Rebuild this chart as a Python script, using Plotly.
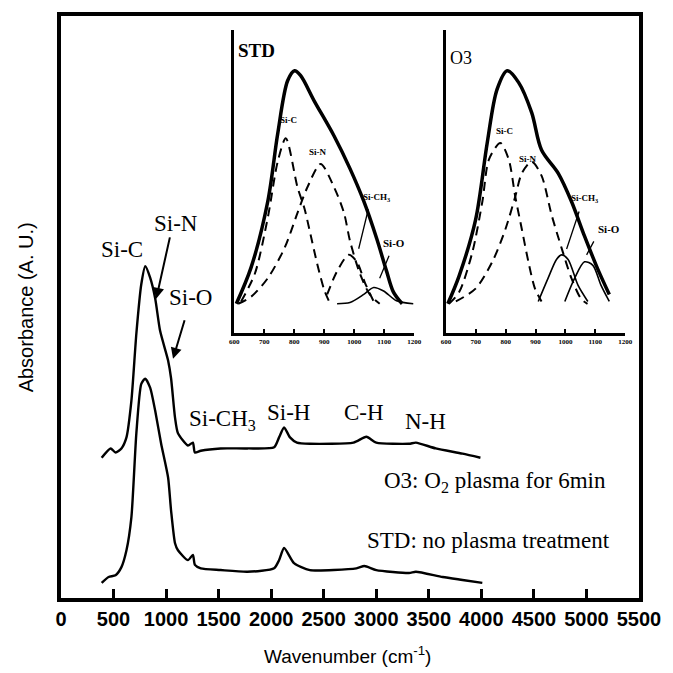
import plotly.graph_objects as go

# ---------------- main spectra ----------------
o3_wn = [387, 472, 519, 575, 623, 670, 717, 764, 802, 849, 896, 943, 1019, 1047, 1085, 1113, 1208, 1255, 1274,
         1330, 1519, 1774, 2028, 2075, 2123, 2179, 2245, 2368, 2783, 2906, 3000, 3311, 3377, 3566, 3821, 3991]
o3_abs = [0.241, 0.257, 0.250, 0.257, 0.276, 0.339, 0.454, 0.539, 0.570, 0.550, 0.515, 0.459, 0.408, 0.378, 0.310,
          0.283, 0.262, 0.267, 0.250, 0.253, 0.257, 0.257, 0.259, 0.276, 0.293, 0.276, 0.267, 0.265, 0.267, 0.277,
          0.267, 0.265, 0.267, 0.257, 0.248, 0.241]

std_wn = [387, 453, 519, 575, 623, 670, 717, 764, 802, 849, 896, 953, 1019, 1047, 1085, 1113, 1208, 1255, 1274,
          1330, 1519, 1774, 2028, 2075, 2123, 2217, 2368, 2811, 2887, 3000, 3311, 3377, 3632, 3821, 4009]
std_abs = [0.026, 0.036, 0.039, 0.053, 0.082, 0.139, 0.283, 0.368, 0.377, 0.361, 0.322, 0.265, 0.207, 0.151, 0.094,
           0.082, 0.065, 0.074, 0.057, 0.051, 0.048, 0.045, 0.051, 0.065, 0.086, 0.060, 0.048, 0.051, 0.055, 0.048,
           0.043, 0.045, 0.036, 0.031, 0.026]

x_ticks = [0, 500, 1000, 1500, 2000, 2500, 3000, 3500, 4000, 4500, 5000, 5500]

# ---------------- STD inset (deconvolution) ----------------
std_tot_wn = [607, 656, 712, 745, 778, 801, 821, 867, 933, 986, 1032, 1075, 1108, 1131, 1160]
std_tot_y = [0.0, 0.155, 0.44, 0.73, 0.957, 1.0, 0.98, 0.87, 0.72, 0.58, 0.44, 0.28, 0.14, 0.05, 0.0]
std_sic_wn = [623, 669, 712, 745, 772, 811, 834, 854, 877, 900, 920]
std_sic_y = [0.01, 0.13, 0.37, 0.61, 0.71, 0.50, 0.41, 0.30, 0.17, 0.06, 0.0]
std_sin_wn = [613, 656, 712, 768, 811, 844, 888, 933, 966, 986, 1019, 1052, 1085]
std_sin_y = [0.0, 0.03, 0.11, 0.24, 0.39, 0.50, 0.60, 0.50, 0.39, 0.27, 0.13, 0.04, 0.0]
std_sich3_wn = [910, 943, 982, 1009, 1036, 1065]
std_sich3_y = [0.04, 0.14, 0.21, 0.18, 0.09, 0.01]
std_sio_wn = [943, 986, 1032, 1065, 1098, 1141, 1197]
std_sio_y = [0.0, 0.005, 0.04, 0.07, 0.055, 0.013, 0.0]

# ---------------- O3 inset (deconvolution) ----------------
o3_tot_wn = [606, 644, 699, 738, 771, 805, 843, 887, 920, 976, 1020, 1064, 1108, 1147]
o3_tot_y = [0.0, 0.12, 0.36, 0.69, 0.92, 1.0, 0.95, 0.82, 0.66, 0.56, 0.44, 0.29, 0.15, 0.04]
o3_sic_wn = [610, 644, 688, 722, 744, 782, 810, 832, 854, 876, 898, 920]
o3_sic_y = [0.0, 0.05, 0.22, 0.44, 0.62, 0.69, 0.62, 0.46, 0.32, 0.18, 0.065, 0.01]
o3_sin_wn = [633, 699, 755, 799, 832, 854, 887, 920, 954, 987, 1020, 1053, 1074]
o3_sin_y = [0.01, 0.065, 0.18, 0.32, 0.46, 0.56, 0.61, 0.55, 0.38, 0.24, 0.11, 0.02, 0.0]
o3_sich3_wn = [909, 942, 970, 987, 1009, 1042, 1075]
o3_sich3_y = [0.01, 0.11, 0.19, 0.21, 0.19, 0.08, 0.01]
o3_sio_wn = [998, 1031, 1064, 1092, 1119, 1147]
o3_sio_y = [0.01, 0.11, 0.18, 0.165, 0.08, 0.01]

inset_ticks = [600, 700, 800, 900, 1000, 1100, 1200]

fig = go.Figure()
line_main = dict(color="black", width=2.4, shape="spline", smoothing=0.6)
fig.add_trace(go.Scatter(x=o3_wn, y=o3_abs, mode="lines", line=line_main, xaxis="x", yaxis="y"))
fig.add_trace(go.Scatter(x=std_wn, y=std_abs, mode="lines", line=line_main, xaxis="x", yaxis="y"))

def add_inset(xa, ya, tot, sic, sin, sich3, sio, comp_dash_ch3):
    fig.add_trace(go.Scatter(x=tot[0], y=tot[1], mode="lines", xaxis=xa, yaxis=ya,
                             line=dict(color="black", width=3.5, shape="spline", smoothing=0.9)))
    dash_line = dict(color="black", width=2, dash="9px,6px", shape="spline", smoothing=0.8)
    thin_line = dict(color="black", width=1.6, shape="spline", smoothing=0.8)
    fig.add_trace(go.Scatter(x=sic[0], y=sic[1], mode="lines", xaxis=xa, yaxis=ya, line=dash_line))
    fig.add_trace(go.Scatter(x=sin[0], y=sin[1], mode="lines", xaxis=xa, yaxis=ya, line=dash_line))
    fig.add_trace(go.Scatter(x=sich3[0], y=sich3[1], mode="lines", xaxis=xa, yaxis=ya,
                             line=dash_line if comp_dash_ch3 else thin_line))
    fig.add_trace(go.Scatter(x=sio[0], y=sio[1], mode="lines", xaxis=xa, yaxis=ya, line=thin_line))

add_inset("x2", "y2", (std_tot_wn, std_tot_y), (std_sic_wn, std_sic_y), (std_sin_wn, std_sin_y),
          (std_sich3_wn, std_sich3_y), (std_sio_wn, std_sio_y), True)
add_inset("x3", "y3", (o3_tot_wn, o3_tot_y), (o3_sic_wn, o3_sic_y), (o3_sin_wn, o3_sin_y),
          (o3_sich3_wn, o3_sich3_y), (o3_sio_wn, o3_sio_y), False)

tick_font = dict(family="Liberation Sans", size=20, color="black", weight="bold")
inset_x = dict(range=[600, 1200], tickvals=inset_ticks, ticks="inside", ticklen=4, tickwidth=1.5,
               tickcolor="black", showline=True, linewidth=3, linecolor="black", showgrid=False,
               zeroline=False, tickfont=dict(family="Liberation Serif", size=7, color="black", weight="bold"))
inset_y = dict(range=[-0.125, 1.175], showticklabels=False, ticks="", showline=True, linewidth=3,
               linecolor="black", showgrid=False, zeroline=False)

fig.update_layout(
    width=673, height=673,
    margin=dict(l=61, r=28, t=14, b=75),
    paper_bgcolor="white", plot_bgcolor="white",
    showlegend=False,
    xaxis=dict(range=[0, 5500], tickvals=x_ticks, ticks="inside", ticklen=9, tickwidth=2.5,
               tickcolor="black", showline=True, mirror=True, linewidth=4, linecolor="black",
               showgrid=False, zeroline=False, tickfont=tick_font),
    yaxis=dict(range=[0, 1], showticklabels=False, ticks="", showline=True, mirror=True, linewidth=4,
               linecolor="black", showgrid=False, zeroline=False),
    xaxis2=dict(domain=[0.2997, 0.611], anchor="y2", **inset_x),
    yaxis2=dict(domain=[0.4555, 0.976], anchor="x2", **inset_y),
    xaxis3=dict(domain=[0.6661, 0.976], anchor="y3", **inset_x),
    yaxis3=dict(domain=[0.4555, 0.976], anchor="x3", **inset_y),
)

serif = dict(family="Liberation Serif", size=23, color="black")
anns = []
def txt(x, y, s, xref="x", yref="y", font=serif, xanchor="center"):
    anns.append(dict(x=x, y=y, xref=xref, yref=yref, text=s, showarrow=False, font=font,
                     xanchor=xanchor, yanchor="middle"))
def arrow(x, y, ax, ay, xref="x", yref="y", head=2, width=2):
    anns.append(dict(x=x, y=y, xref=xref, yref=yref, text="", showarrow=True, ax=ax, ay=ay,
                     arrowhead=head, arrowsize=1.1, arrowwidth=width, arrowcolor="black"))

txt(585, 0.599, "Si-C")
txt(1094, 0.644, "Si-N")
arrow(906, 0.514, 14, -63)
txt(1236, 0.517, "Si-O")
arrow(1066, 0.411, 12, -40)
txt(1538, 0.305, "Si-CH<sub>3</sub>")
txt(2160, 0.318, "Si-H")
txt(2887, 0.318, "C-H")
txt(3472, 0.303, "N-H")
txt(4132, 0.199, "O3: O<sub>2</sub> plasma for 6min")
txt(4066, 0.098, "STD: no plasma treatment")

# inset labels
small = dict(family="Liberation Serif", size=9, color="black")
txt(607, 1.086, "<b>STD</b>", "x2", "y2", dict(family="Liberation Serif", size=19, color="black"), "left")
txt(781, 0.79, "<b>Si-C</b>", "x2", "y2", small)
txt(880, 0.65, "<b>Si-N</b>", "x2", "y2", small)
txt(1075, 0.455, "<b>Si-CH<sub>3</sub></b>", "x2", "y2", small)
arrow(1015, 0.236, 10, -41, "x2", "y2", head=0, width=1.3)
txt(1134, 0.26, "<b>Si-O</b>", "x2", "y2", dict(family="Liberation Serif", size=11, color="black"))
arrow(1085, 0.11, 10, -24, "x2", "y2", head=0, width=1.3)

txt(607, 1.056, "O3", "x3", "y3", dict(family="Liberation Serif", size=18, color="black"), "left")
txt(796, 0.74, "<b>Si-C</b>", "x3", "y3", small)
txt(875, 0.62, "<b>Si-N</b>", "x3", "y3", small)
txt(1064, 0.45, "<b>Si-CH<sub>3</sub></b>", "x3", "y3", small)
arrow(1004, 0.235, 13, -39, "x3", "y3", head=0, width=1.3)
txt(1147, 0.32, "<b>Si-O</b>", "x3", "y3", dict(family="Liberation Serif", size=11, color="black"))
arrow(1071, 0.21, 8, -15, "x3", "y3", head=0, width=1.3)

# axis titles
anns.append(dict(x=(350 - 61) / 584, y=(598 - 655) / 584, xref="paper", yref="paper",
                 text="Wavenumber (cm<sup>-1</sup>)", showarrow=False,
                 font=dict(family="Liberation Sans", size=19, color="black"),
                 xanchor="center", yanchor="middle"))
anns.append(dict(x=(26 - 61) / 584, y=0.5, xref="paper", yref="paper", text="Absorbance (A. U.)",
                 showarrow=False, textangle=-90,
                 font=dict(family="Liberation Sans", size=20, color="black"),
                 xanchor="center", yanchor="middle"))
fig.update_layout(annotations=anns)

fig.write_html("out.html", config={"displayModeBar": False},
               post_script="document.body.style.margin='0px';")
